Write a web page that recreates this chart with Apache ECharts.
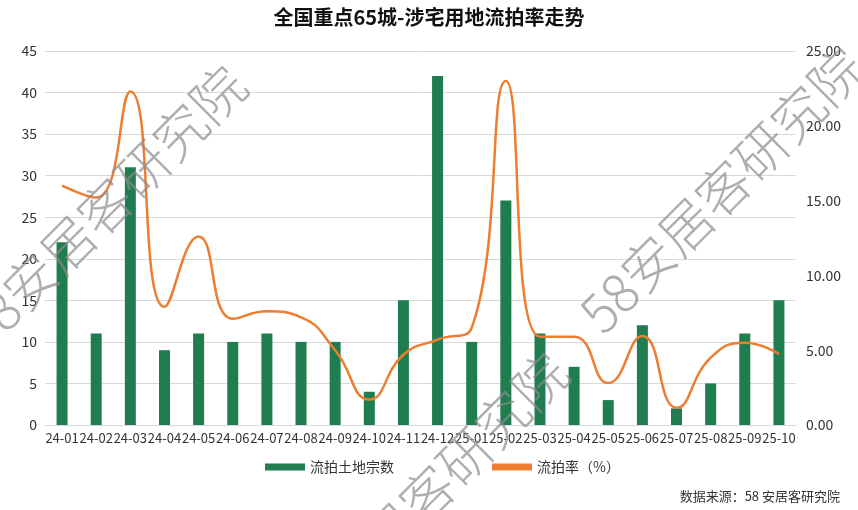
<!DOCTYPE html>
<html>
<head>
<meta charset="utf-8">
<script src="https://cdn.jsdelivr.net/npm/echarts@6/dist/echarts.min.js"></script>
<style>
  html, body { margin: 0; padding: 0; background: #fff; }
  #chart { width: 858px; height: 510px; }
</style>
</head>
<body>
<div id="chart"></div>
<script>
// Monthly land auctions in 65 key cities
const months = ['24-01','24-02','24-03','24-04','24-05','24-06','24-07','24-08','24-09','24-10','24-11','24-12',
                '25-01','25-02','25-03','25-04','25-05','25-06','25-07','25-08','25-09','25-10'];
// number of failed residential land auctions
const failedCount = [22, 11, 31, 9, 11, 10, 11, 10, 10, 4, 15, 42, 10, 27, 11, 7, 3, 12, 2, 5, 11, 15];
// failed auction rate (%)
const failedRate = [16.0, 15.2, 22.3, 7.9, 12.6, 7.1, 7.6, 7.2, 5.0, 1.7, 4.7, 5.7,
                    6.5, 23.0, 5.9, 5.9, 2.8, 5.95, 1.15, 4.5, 5.5, 4.75];

const FONT = '"Noto Sans CJK SC", "Noto Sans", sans-serif';
const GREEN = '#1f7d4f';
const ORANGE = '#ed7d31';

const chart = echarts.init(document.getElementById('chart'));

const mark = '58安居客研究院';
const markCenters = [[104, 208], [722, 190], [426, 495]];

chart.setOption({
  backgroundColor: '#fff',
  animation: false,
  title: {
    text: '全国重点65城-涉宅用地流拍率走势',
    left: 'center',
    top: 2,
    textStyle: { fontFamily: FONT, fontSize: 20, fontWeight: 'bold', color: '#111' }
  },
  grid: { left: 45, right: 62, top: 51, bottom: 85, containLabel: false },
  legend: {
    bottom: 31,
    left: 260,
    itemGap: 98,
    itemWidth: 40,
    itemHeight: 7,
    textStyle: { fontFamily: FONT, fontSize: 14, color: '#333' },
    data: [
      { name: '流拍土地宗数', icon: 'rect' },
      { name: '流拍率（%）', icon: 'rect', itemStyle: { color: ORANGE } }
    ]
  },
  xAxis: {
    type: 'category',
    data: months,
    axisLine: { show: true, lineStyle: { color: '#d9d9d9' } },
    axisTick: { show: false },
    axisLabel: { interval: 0, fontFamily: FONT, fontSize: 13, color: '#333', margin: 7 }
  },
  yAxis: [
    {
      type: 'value', min: 0, max: 45, interval: 5,
      axisLine: { show: false }, axisTick: { show: false },
      axisLabel: { fontFamily: FONT, fontSize: 14, color: '#333', margin: 8 },
      splitLine: { lineStyle: { color: '#d9d9d9', width: 1 } }
    },
    {
      type: 'value', min: 0, max: 25, interval: 5,
      axisLine: { show: false }, axisTick: { show: false },
      splitLine: { show: false },
      axisLabel: { fontFamily: FONT, fontSize: 14, color: '#333', margin: 10,
                   formatter: v => v.toFixed(2) }
    }
  ],
  series: [
    {
      name: '流拍土地宗数',
      type: 'bar',
      data: failedCount,
      barWidth: 11,
      itemStyle: { color: GREEN }
    },
    {
      name: '流拍率（%）',
      type: 'line',
      yAxisIndex: 1,
      data: failedRate,
      smooth: 0.5,
      symbol: 'none',
      lineStyle: { color: ORANGE, width: 2.5 },
      itemStyle: { color: ORANGE }
    }
  ],
  graphic: markCenters.map(c => ({
    type: 'text',
    x: c[0], y: c[1],
    rotation: Math.PI / 4,
    silent: true,
    z: 100,
    style: {
      text: mark,
      fontFamily: FONT,
      fontSize: 53,
      fontWeight: 200,
      fill: 'rgba(140,140,140,0.7)',
      align: 'center',
      verticalAlign: 'middle'
    }
  })).concat([{
    type: 'text',
    right: 18,
    bottom: 7,
    style: {
      text: '数据来源：58 安居客研究院',
      fontFamily: FONT,
      fontSize: 13,
      fill: '#333'
    }
  }])
});
</script>
</body>
</html>
